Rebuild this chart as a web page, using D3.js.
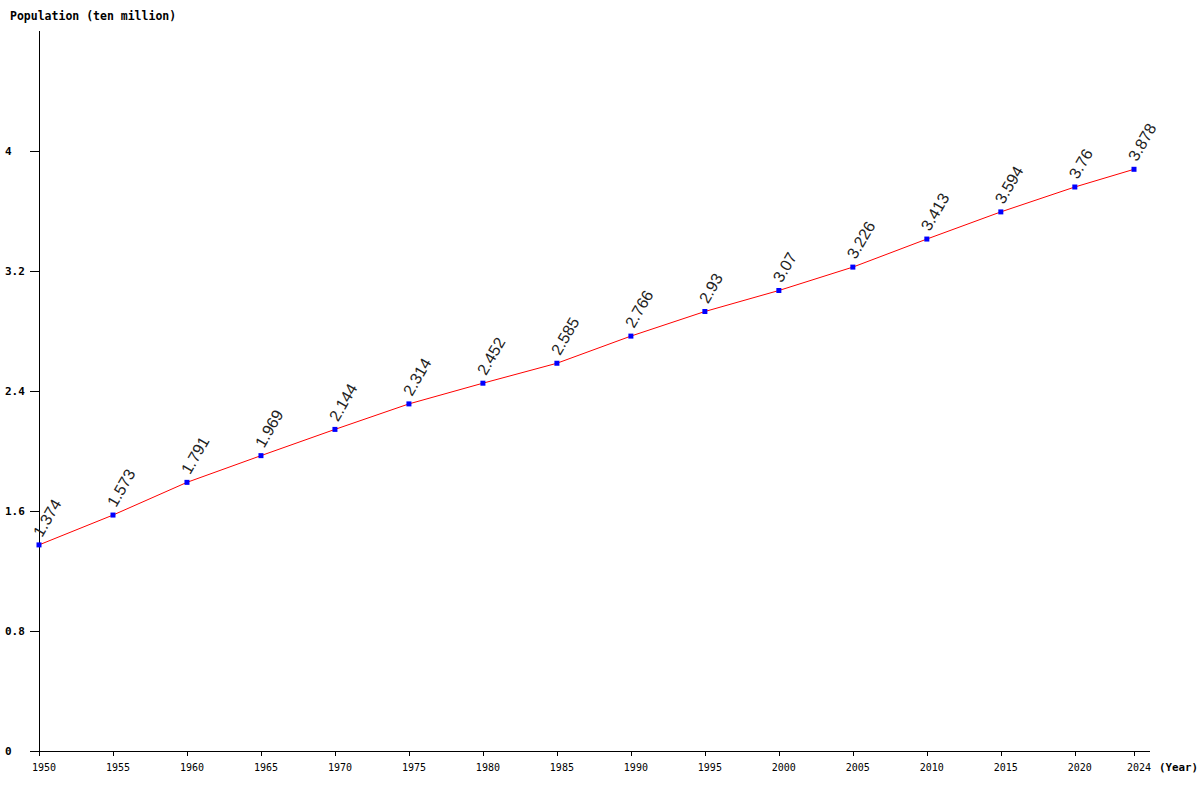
<!DOCTYPE html>
<html>
<head>
<meta charset="utf-8">
<script src="https://cdn.jsdelivr.net/npm/d3@7"></script>
<style>
  body { margin: 0; background: #fff; }
  svg { display: block; }
</style>
</head>
<body>
<div id="chart"></div>
<script>
(function () {
    'use strict';

    // data ======================================================
    const years = [1950, 1955, 1960, 1965, 1970, 1975, 1980, 1985, 1990, 1995, 2000, 2005, 2010, 2015, 2020, 2024];
    const population = [1.374, 1.573, 1.791, 1.969, 2.144, 2.314, 2.452, 2.585, 2.766, 2.93, 3.07, 3.226, 3.413, 3.594, 3.76, 3.878];
    const yTicks = [0, 0.8, 1.6, 2.4, 3.2, 4];
    const xTicks = years;

    const width = 1200;
    const height = 800;
    const left = 39, bottom = 751, top = 31, right = 1150;

    const x = d3.scaleLinear().domain([1950, 2024]).range([left, 1134]);
    const y = d3.scaleLinear().domain([0, 4.8]).range([bottom, top]);

    const svg = d3.select('#chart').append('svg')
        .attr('width', width)
        .attr('height', height);

    // axes ======================================================
    svg.append('line')
        .attr('x1', left + 0.5).attr('y1', top)
        .attr('x2', left + 0.5).attr('y2', bottom)
        .attr('stroke', '#000').attr('stroke-width', 1);

    svg.append('line')
        .attr('x1', 30).attr('y1', bottom + 0.5)
        .attr('x2', right).attr('y2', bottom + 0.5)
        .attr('stroke', '#000').attr('stroke-width', 1);

    svg.append('g').selectAll('line').data(yTicks).enter().append('line')
        .attr('x1', 30).attr('x2', left)
        .attr('y1', d => Math.round(y(d)) + 0.5)
        .attr('y2', d => Math.round(y(d)) + 0.5)
        .attr('stroke', '#000');

    svg.append('g').selectAll('text').data(yTicks).enter().append('text')
        .attr('x', 5)
        .attr('y', d => y(d) + 4)
        .text(d => String(d))
        .style('font-family', 'DejaVu Sans Mono')
        .style('font-weight', 'bold')
        .style('font-size', '11px')
        .style('fill', '#000');

    svg.append('g').selectAll('line').data(xTicks).enter().append('line')
        .attr('x1', d => Math.round(x(d)) + 0.5)
        .attr('x2', d => Math.round(x(d)) + 0.5)
        .attr('y1', bottom).attr('y2', bottom + 5)
        .attr('stroke', '#000');

    svg.append('g').selectAll('text').data(xTicks).enter().append('text')
        .attr('x', d => x(d) + 5)
        .attr('y', 771)
        .attr('text-anchor', 'middle')
        .text(d => d)
        .style('font-family', 'DejaVu Sans Mono')
        .style('font-size', '10px')
        .style('fill', '#000');

    svg.append('text')
        .attr('x', 10).attr('y', 20)
        .text('Population (ten million)')
        .style('font-family', 'DejaVu Sans Mono')
        .style('font-weight', 'bold')
        .style('font-size', '11.5px');

    svg.append('text')
        .attr('x', 1159).attr('y', 771)
        .text('(Year)')
        .style('font-family', 'DejaVu Sans Mono')
        .style('font-weight', 'bold')
        .style('font-size', '10.8px');

    // line ======================================================
    const points = years.map((yr, i) => ({ year: yr, value: population[i] }));

    const line = d3.line()
        .x(d => x(d.year))
        .y(d => y(d.value));

    svg.append('path')
        .datum(points)
        .attr('d', line)
        .attr('fill', 'none')
        .attr('stroke', '#ff0000')
        .attr('stroke-width', 1);

    svg.append('g').selectAll('rect').data(points).enter().append('rect')
        .attr('x', d => x(d.year) - 2.5)
        .attr('y', d => y(d.value) - 2.5)
        .attr('width', 5)
        .attr('height', 5)
        .style('fill', '#0000ff');

    svg.append('g').selectAll('text').data(points).enter().append('text')
        .attr('transform', d => `translate(${x(d.year) + 3},${y(d.value) - 7}) rotate(-60)`)
        .text(d => String(d.value))
        .style('font-family', 'Liberation Sans')
        .style('font-size', '16px')
        .style('fill', '#222');
}());
</script>
</body>
</html>
